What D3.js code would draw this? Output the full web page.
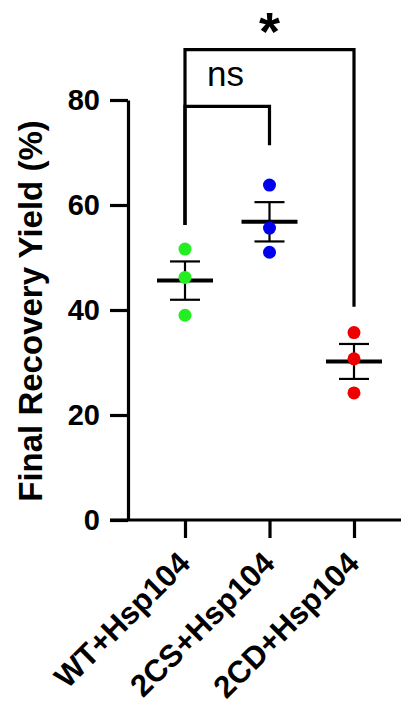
<!DOCTYPE html>
<html>
<head>
<meta charset="utf-8">
<script src="https://cdn.jsdelivr.net/npm/d3@7"></script>
<style>
  body { margin: 0; background: #fff; }
  svg text { font-family: "Liberation Sans", Arial, sans-serif; }
</style>
</head>
<body>
<div id="chart"></div>
<script>
// data
var groups = ["WT+Hsp104", "2CS+Hsp104", "2CD+Hsp104"];
var colors = ["#22ee22", "#0000ee", "#ee0000"];
var wtValues = [51.6, 46.2, 39.0];
var csValues = [63.8, 55.6, 51.0];
var cdValues = [35.7, 30.7, 24.2];
var yTicks = [0, 20, 40, 60, 80];

// significance brackets: [from group, to group, bar height, left leg end, right leg end, label]
var brackets = [
  {from: 0, to: 1, top: 78.8, leftEnd: 56.2, rightEnd: 71.4, label: "ns"},
  {from: 0, to: 2, top: 89.6, leftEnd: 56.2, rightEnd: 40.6, label: "*"}
];

var allValues = [wtValues, csValues, cdValues];

var width = 403, height = 707;

var svg = d3.select("#chart").append("svg")
    .attr("width", width)
    .attr("height", height);

svg.append("rect").attr("width", width).attr("height", height).attr("fill", "#fff");

var x = d3.scalePoint()
    .domain(groups)
    .range([185, 354]);

var y = d3.scaleLinear()
    .domain([0, 80])
    .range([520, 100]);

// y axis
var yAxis = svg.append("g")
    .attr("transform", "translate(128,0)")
    .call(d3.axisLeft(y).tickValues(yTicks).tickSize(18).tickSizeOuter(0).tickPadding(10));
yAxis.select(".domain").attr("stroke-width", 3.2).attr("stroke", "#000");
yAxis.selectAll(".tick line").attr("stroke-width", 3.2);
yAxis.selectAll(".tick text")
    .attr("font-size", 29)
    .attr("font-weight", "bold")
    .attr("fill", "#000")
    .attr("font-family", "'Liberation Sans', Arial, sans-serif");

// x axis
var xAxis = svg.append("g")
    .attr("transform", "translate(0,520)")
    .call(d3.axisBottom(x).tickSize(18).tickSizeOuter(0).tickFormat(""));
xAxis.select(".domain").remove();
xAxis.selectAll(".tick line").attr("stroke-width", 3.2);
svg.append("line")
    .attr("x1", 110).attr("x2", 401)
    .attr("y1", y(0)).attr("y2", y(0))
    .attr("stroke", "#000").attr("stroke-width", 3.2);

svg.selectAll(".xlabel")
    .data(groups)
    .enter().append("text")
    .attr("class", "xlabel")
    .attr("transform", function(d) { return "translate(" + (x(d) + 7) + ",565) rotate(-45)"; })
    .attr("text-anchor", "end")
    .attr("font-size", 31)
    .attr("font-weight", "bold")
    .text(function(d) { return d; });

// y axis title
svg.append("text")
    .attr("transform", "translate(42,311) rotate(-90)")
    .attr("text-anchor", "middle")
    .attr("font-size", 33)
    .attr("font-weight", "bold")
    .text("Final Recovery Yield (%)");

// mean and sem per group
var stats = groups.map(function(g, i) {
  var v = allValues[i];
  var m = d3.mean(v);
  var sem = d3.deviation(v) / Math.sqrt(v.length);
  return {group: g, mean: m, sem: sem};
});

var grp = svg.selectAll(".grp")
    .data(stats)
    .enter().append("g")
    .attr("class", "grp");

grp.append("line")
    .attr("x1", function(d) { return x(d.group); })
    .attr("x2", function(d) { return x(d.group); })
    .attr("y1", function(d) { return y(d.mean + d.sem); })
    .attr("y2", function(d) { return y(d.mean - d.sem); })
    .attr("stroke", "#000").attr("stroke-width", 2.2);

[1, -1].forEach(function(s) {
  grp.append("line")
      .attr("x1", function(d) { return x(d.group) - 15; })
      .attr("x2", function(d) { return x(d.group) + 15; })
      .attr("y1", function(d) { return y(d.mean + s * d.sem); })
      .attr("y2", function(d) { return y(d.mean + s * d.sem); })
      .attr("stroke", "#000").attr("stroke-width", 2.2);
});

// points
groups.forEach(function(g, i) {
  svg.selectAll(".pt" + i)
      .data(allValues[i])
      .enter().append("circle")
      .attr("class", "pt" + i)
      .attr("cx", x(g))
      .attr("cy", function(d) { return y(d); })
      .attr("r", 6.5)
      .attr("fill", colors[i]);
});

// mean lines on top
grp.append("line")
    .attr("x1", function(d) { return x(d.group) - 28; })
    .attr("x2", function(d) { return x(d.group) + 28; })
    .attr("y1", function(d) { return y(d.mean); })
    .attr("y2", function(d) { return y(d.mean); })
    .attr("stroke", "#000").attr("stroke-width", 4);

// brackets
brackets.forEach(function(b) {
  var x1 = x(groups[b.from]), x2 = x(groups[b.to]);
  svg.append("path")
      .attr("d", "M" + x1 + "," + y(b.leftEnd) + "V" + y(b.top) + "H" + x2 + "V" + y(b.rightEnd))
      .attr("fill", "none")
      .attr("stroke", "#000")
      .attr("stroke-width", 3.2);
});

svg.append("text")
    .attr("x", 207).attr("y", 86)
    .attr("font-size", 35)
    .text(brackets[0].label);

svg.append("text")
    .attr("x", (x(groups[0]) + x(groups[2])) / 2).attr("y", 50)
    .attr("text-anchor", "middle")
    .attr("font-size", 54)
    .attr("font-weight", "bold")
    .text(brackets[1].label);
</script>
</body>
</html>
